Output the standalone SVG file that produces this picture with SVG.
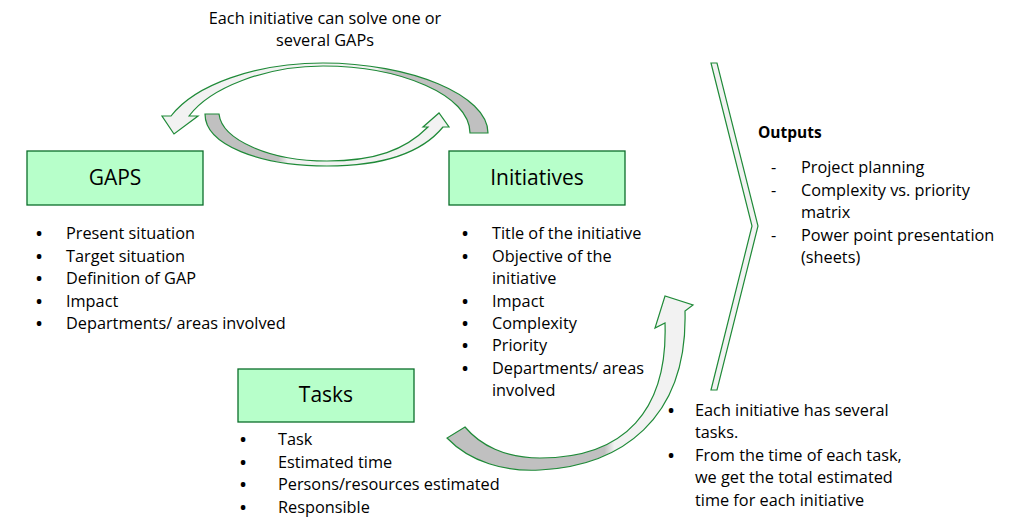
<svg xmlns="http://www.w3.org/2000/svg" width="1011" height="525" viewBox="0 0 1011 525">
<style>
.box{fill:#B7FFCA;stroke:#0B6E2A;stroke-width:1.3}
.arr{stroke:#1F8A38;stroke-width:1.2;stroke-linejoin:miter}
text{font-family:"Open Sans","Noto Sans","Liberation Sans",sans-serif;fill:#000}
.t{font-size:16.3px}
.d{font-size:16.3px;font-weight:bold}
.h{font-size:21px;text-anchor:middle}
.b{font-size:15.5px;font-weight:bold}
</style>
<defs>
<linearGradient id="gTop" gradientUnits="userSpaceOnUse" x1="162" y1="0" x2="488" y2="0">
<stop offset="0" stop-color="#F2F2F2"/><stop offset="0.66" stop-color="#F2F2F2"/><stop offset="0.69" stop-color="#C0C0C0"/><stop offset="1" stop-color="#C0C0C0"/>
</linearGradient>
<linearGradient id="gMid" gradientUnits="userSpaceOnUse" x1="205" y1="0" x2="449" y2="0">
<stop offset="0" stop-color="#C0C0C0"/><stop offset="0.3" stop-color="#C0C0C0"/><stop offset="0.34" stop-color="#F2F2F2"/><stop offset="1" stop-color="#F2F2F2"/>
</linearGradient>
<linearGradient id="gTask" gradientUnits="userSpaceOnUse" x1="447" y1="0" x2="693" y2="0">
<stop offset="0" stop-color="#C0C0C0"/><stop offset="0.64" stop-color="#C0C0C0"/><stop offset="0.68" stop-color="#F2F2F2"/><stop offset="1" stop-color="#F2F2F2"/>
</linearGradient>
</defs>

<g id="connectors">
<path class="arr" fill="url(#gTop)" d="M470,133 L488,133 C488,95 410,63 323,63 C255,63 195,85 171,116 L162,116 L174,134 L198,116 L189,116 C210,88 265,66 323,66 C400,66 470,95 470,133 Z"/>
<path class="arr" fill="url(#gMid)" d="M205,114 L219,114 C222,140 270,161 327,161 C375,161 405,150 428,127 L423,127 L439,113 L449,127 L443,127 C420,155 380,166 327,166 C260,166 205,145 205,114 Z"/>
<path class="arr" fill="url(#gTask)" d="M447,438 C470,462 505,472 540,470 C620,466 688,420 685,311 L693,305 L665,296 L655,328 L665,323 C668,410 625,458 540,458 C505,458 480,445 465,427 Z"/>
</g>

<g id="outputs-chevron">
<polygon points="711,63 717,63 758,226 717,390 711,390 752,226" fill="#F2F2F2" stroke="#1F8A38" stroke-width="1.2"/>
</g>

<g id="note-top">
<text class="t" x="325" y="24" text-anchor="middle">Each initiative can solve one or</text>
<text class="t" x="325" y="46" text-anchor="middle">several GAPs</text>
</g>

<g id="gaps">
<rect class="box" x="27" y="151" width="176" height="54"/>
<text class="h" x="115" y="185">GAPS</text>
<text class="d" x="36" y="239">•</text><text class="t" x="66" y="239">Present situation</text>
<text class="d" x="36" y="262">•</text><text class="t" x="66" y="262">Target situation</text>
<text class="d" x="36" y="284">•</text><text class="t" x="66" y="284">Definition of GAP</text>
<text class="d" x="36" y="307">•</text><text class="t" x="66" y="307">Impact</text>
<text class="d" x="36" y="329">•</text><text class="t" x="66" y="329">Departments/ areas involved</text>
</g>

<g id="initiatives">
<rect class="box" x="449" y="151" width="176" height="54"/>
<text class="h" x="537" y="185">Initiatives</text>
<text class="d" x="462" y="239">•</text><text class="t" x="492" y="239">Title of the initiative</text>
<text class="d" x="462" y="262">•</text><text class="t" x="492" y="262">Objective of the</text>
<text class="t" x="492" y="284">initiative</text>
<text class="d" x="462" y="307">•</text><text class="t" x="492" y="307">Impact</text>
<text class="d" x="462" y="329">•</text><text class="t" x="492" y="329">Complexity</text>
<text class="d" x="462" y="351">•</text><text class="t" x="492" y="351">Priority</text>
<text class="d" x="462" y="374">•</text><text class="t" x="492" y="374">Departments/ areas</text>
<text class="t" x="492" y="396">involved</text>
</g>

<g id="tasks">
<rect class="box" x="238" y="369" width="176" height="53"/>
<text class="h" x="326" y="402">Tasks</text>
<text class="d" x="240" y="445">•</text><text class="t" x="278" y="445">Task</text>
<text class="d" x="240" y="468">•</text><text class="t" x="278" y="468">Estimated time</text>
<text class="d" x="240" y="490">•</text><text class="t" x="278" y="490">Persons/resources estimated</text>
<text class="d" x="240" y="513">•</text><text class="t" x="278" y="513">Responsible</text>
</g>

<g id="task-note">
<text class="d" x="668" y="416">•</text><text class="t" x="695" y="416">Each initiative has several</text>
<text class="t" x="695" y="438">tasks.</text>
<text class="d" x="668" y="461">•</text><text class="t" x="695" y="461">From the time of each task,</text>
<text class="t" x="695" y="483">we get the total estimated</text>
<text class="t" x="695" y="506">time for each initiative</text>
</g>

<g id="outputs">
<text class="b" x="758" y="138">Outputs</text>
<text class="t" x="771" y="173">-</text><text class="t" x="801" y="173">Project planning</text>
<text class="t" x="771" y="196">-</text><text class="t" x="801" y="196">Complexity vs. priority</text>
<text class="t" x="801" y="218">matrix</text>
<text class="t" x="771" y="241">-</text><text class="t" x="801" y="241">Power point presentation</text>
<text class="t" x="801" y="263">(sheets)</text>
</g>
</svg>
